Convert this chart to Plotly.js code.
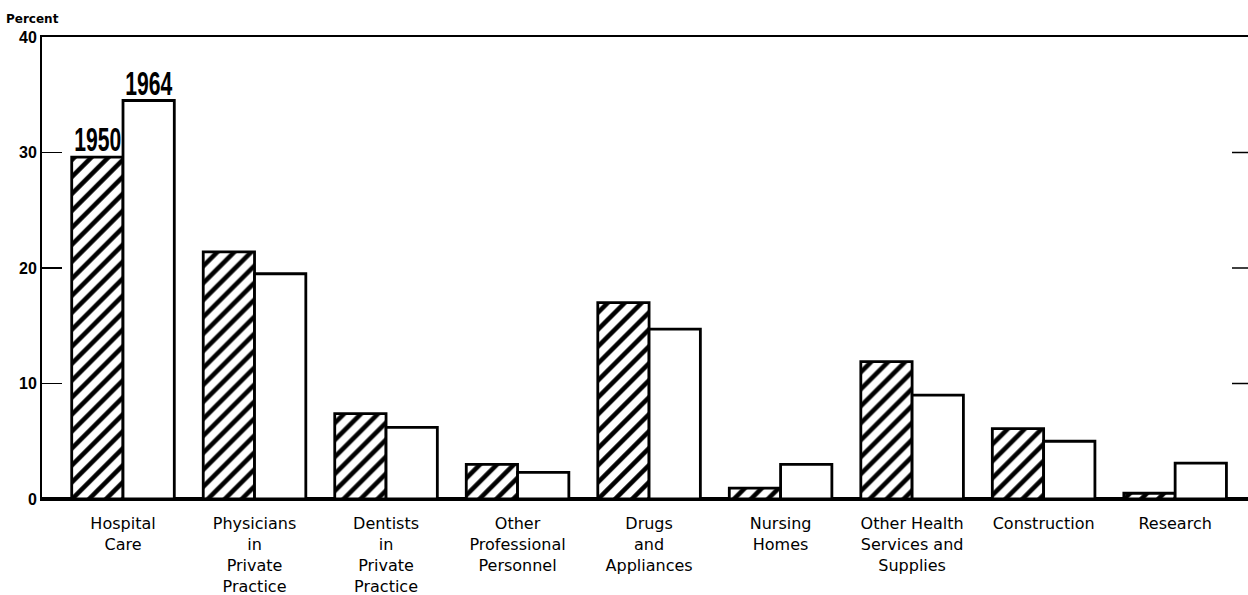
<!DOCTYPE html>
<html><head><meta charset="utf-8">
<script src="https://cdn.plot.ly/plotly-3.0.1.min.js"></script>
<style>
body{margin:0;background:#fff}#chart{width:1248px;height:595px}
#chart .annotation[data-index="1"] .annotation-text,
#chart .annotation[data-index="2"] .annotation-text{
  transform-box: fill-box; transform-origin: center bottom; transform: scaleX(0.64);
}
</style>
</head><body><div id="chart"></div>
<script>
const categories = ["Hospital<br>Care", "Physicians<br>in<br>Private<br>Practice", "Dentists<br>in<br>Private<br>Practice", "Other<br>Professional<br>Personnel", "Drugs<br>and<br>Appliances", "Nursing<br>Homes", "Other Health<br>Services and<br>Supplies", "Construction", "Research"];
const values1950 = [29.6, 21.4, 7.4, 3.0, 17.0, 0.95, 11.9, 6.1, 0.5];
const values1964 = [34.5, 19.5, 6.2, 2.3, 14.7, 3.0, 9.0, 5.0, 3.1];
const yTicks = [0, 10, 20, 30, 40];
const rightTicks = [10, 20, 30];
const seriesNames = ["1950", "1964"];

const idx = categories.map((c, i) => i);
const yearFont = {family: "Liberation Sans, Arial, sans-serif", size: 33, color: "#000", weight: 700};

const t1950 = {
  type: "bar", x: idx, y: values1950, name: seriesNames[0],
  marker: {color: "#fff", line: {color: "#000", width: 2.8},
    pattern: {shape: "/", fgcolor: "#000", bgcolor: "#fff", size: 12, solidity: 0.38}},
  hoverinfo: "skip"
};
const t1964 = {
  type: "bar", x: idx, y: values1964, name: seriesNames[1],
  marker: {color: "#fff", line: {color: "#000", width: 2.8}},
  hoverinfo: "skip"
};

const halfBar = 25.5;
const layout = {
  width: 1248, height: 595,
  margin: {l: 42, r: 0, t: 37, b: 96, pad: 0},
  paper_bgcolor: "#fff", plot_bgcolor: "#fff",
  showlegend: false, barmode: "group", bargap: 0.22, bargroupgap: 0,
  font: {family: "DejaVu Sans, sans-serif", color: "#000"},
  xaxis: {
    range: [-0.616, 8.554], tickvals: idx, ticktext: categories,
    tickfont: {family: "DejaVu Sans, sans-serif", size: 16, color: "#000"},
    ticks: "", ticklabelstandoff: 9, showgrid: false, zeroline: false,
    showline: true, mirror: true, linecolor: "#000", linewidth: 2
  },
  yaxis: {
    range: [0, 40], tickvals: yTicks, ticks: "inside", ticklen: 20, tickwidth: 1.5, tickcolor: "#000",
    tickfont: {family: "Liberation Sans, Arial, sans-serif", size: 16, color: "#000", weight: 700},
    showgrid: false, zeroline: true, zerolinecolor: "#000", zerolinewidth: 3.5,
    showline: true, linecolor: "#000", linewidth: 2
  },
  shapes: rightTicks.map(v => ({
    type: "line", xref: "paper", x0: 1 - 16 / 1206, x1: 1, yref: "y", y0: v, y1: v,
    line: {color: "#000", width: 1.5}
  })),
  annotations: [{
    text: "<b>Percent</b>", xref: "paper", yref: "paper", x: 0, y: 1, xshift: -38, yshift: 9,
    xanchor: "left", yanchor: "bottom", showarrow: false,
    font: {family: "DejaVu Sans, sans-serif", size: 12, color: "#000"}
  }, {
    text: seriesNames[0], xref: "x", yref: "y", x: idx[0], y: values1950[0], xshift: -halfBar, yshift: -3,
    xanchor: "center", yanchor: "bottom", showarrow: false, font: yearFont
  }, {
    text: seriesNames[1], xref: "x", yref: "y", x: idx[0], y: values1964[0], xshift: halfBar, yshift: -3,
    xanchor: "center", yanchor: "bottom", showarrow: false, font: yearFont
  }]
};

Plotly.newPlot("chart", [t1950, t1964], layout, {displayModeBar: false, staticPlot: true});
</script></body></html>
